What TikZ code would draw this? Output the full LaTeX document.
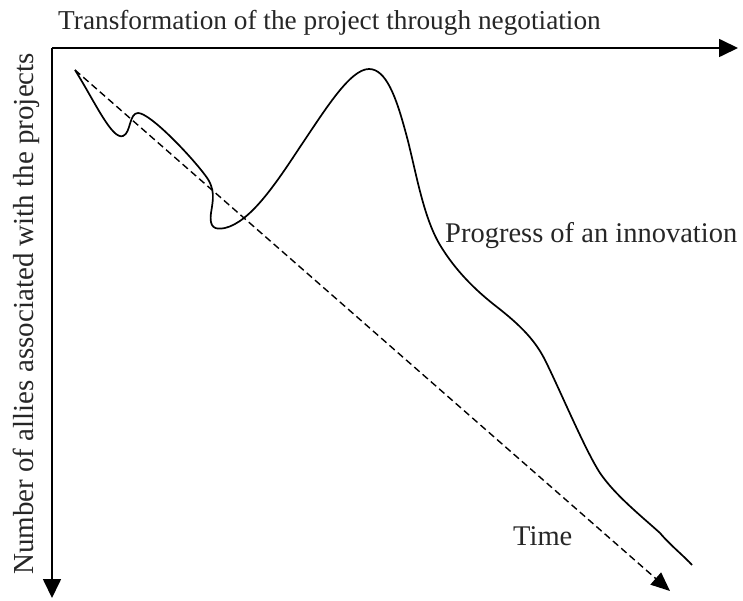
\documentclass[tikz,border=0pt]{standalone}
\usepackage{fontspec}
\setmainfont{Liberation Serif}
\usetikzlibrary{arrows.meta}
\begin{document}
\begin{tikzpicture}[x=1pt,y=-1pt,
  axis/.style={line width=1.7pt,-{Triangle[length=19pt,width=18pt]}},
  label/.style={inner sep=0pt,anchor=base west,font=\fontsize{28.5}{30}\selectfont,text=black!85},
  trend/.style={line width=1.4pt,dash pattern=on 7pt off 4pt,-{Triangle[length=19pt,width=16pt]}},
  progress/.style={line width=1.7pt,line join=round}]
\useasboundingbox (0,0) rectangle (743,601);

% axes
\coordinate (origin) at (52,48);
\coordinate (xend) at (738,48);
\coordinate (yend) at (52,598);
\draw[axis] (origin) -- (xend);
\draw[axis] (origin) -- (yend);

% axis labels
\node[label,font=\fontsize{27.3}{30}\selectfont] (xlabel) at (58,30) {Transformation of the project through negotiation};
\node[label,rotate=90,font=\fontsize{29}{30}\selectfont] (ylabel) at (33,575) {Number of allies associated with the projects};

% time trend
\coordinate (start) at (75,70);
\coordinate (tend) at (670,591);
\draw[trend] (start) -- (tend);
\node[label] (time) at (513,545) {Time};

% progress curve
\coordinate (finish) at (692,565);
\draw[progress] (start)
  .. controls (95,102) and (112,140) .. (123,136)
  .. controls (131,133) and (129,113) .. (138,113)
  .. controls (150,113) and (190,155) .. (205,175)
  .. controls (216,189) and (213,200) .. (211,213)
  .. controls (209,228) and (215,230) .. (225,228)
  .. controls (250,222) and (275,185) .. (300,147)
  .. controls (325,110) and (350,69) .. (369,69)
  .. controls (386,69) and (396,97) .. (405,130)
  .. controls (415,165) and (422,215) .. (440,245)
  .. controls (455,270) and (475,290) .. (497,307)
  .. controls (520,325) and (535,340) .. (545,360)
  .. controls (560,390) and (585,450) .. (600,473)
  .. controls (615,495) and (640,515) .. (660,533)
  .. controls (670,545) and (685,557) .. (finish);
\node[label] (plabel) at (445,243) {Progress of an innovation};
\end{tikzpicture}
\end{document}
